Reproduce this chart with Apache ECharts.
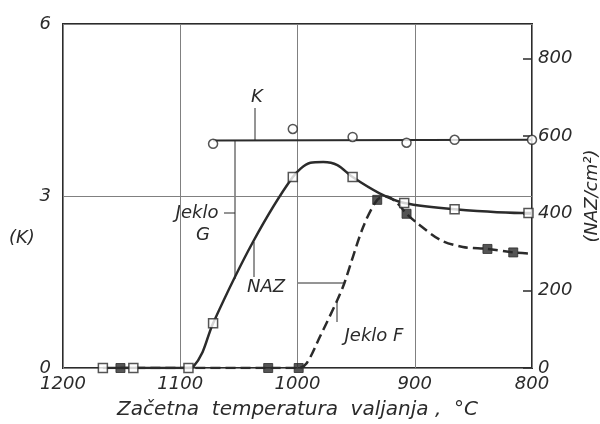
<!DOCTYPE html>
<html lang="sl">
<head>
    <meta charset="UTF-8">
    <title>Začetna temperatura valjanja</title>
    <script src="https://cdn.jsdelivr.net/npm/echarts@6.0.0/dist/echarts.min.js"></script>
    <style>
        html, body { margin: 0; padding: 0; background: #fff; }
        #chart { width: 600px; height: 424px; }
    </style>
</head>
<body>
    <div id="chart"></div>
    <script>
        // podatki, odčitani s slike
        var nazTicks = [0, 200, 400, 600, 800];

        // K - premica in izmerjene točke (krogci)
        var kLineT = [1072, 800];
        var kLineV = [3.97, 3.98];
        var kPointT = [1072, 1004, 953, 907, 866, 800];
        var kPointV = [3.91, 4.17, 4.03, 3.93, 3.98, 3.98];

        // Jeklo G - NAZ (polna črta, prazni kvadratki)
        var gCurveT = [1166, 1093, 1089, 1081, 1072, 1038, 1004, 989, 978, 966, 953, 930, 909, 866, 803, 800];
        var gCurveV = [0, 0, 3, 41, 116, 326, 494, 531, 533, 525, 494, 452, 427, 411, 401, 401];
        var gPointT = [1166, 1140, 1093, 1072, 1004, 953, 909, 866, 803];
        var gPointV = [0, 0, 0, 116, 494, 494, 427, 411, 401];

        // Jeklo F - NAZ (črtkana črta, polni kvadratki)
        var fCurveT = [1151, 999, 992, 981, 966, 960, 944, 932, 924, 915, 907, 898, 878, 859, 838, 816, 800];
        var fCurveV = [0, 0, 13, 80, 176, 220, 365, 435, 444, 427, 399, 375, 331, 313, 308, 299, 296];
        var fPointT = [1151, 1025, 999, 932, 907, 838, 816];
        var fPointV = [0, 0, 0, 435, 399, 308, 299];

        function pairs(t, v) {
            var out = [];
            for (var i = 0; i < t.length; i++) out.push([t[i], v[i]]);
            return out;
        }

        var ink = '#2b2b2b';
        var font = { fontFamily: 'DejaVu Sans', fontStyle: 'italic', fontSize: 18, color: ink };
        var txt = 'italic 18px "DejaVu Sans"';

        var chart = echarts.init(document.getElementById('chart'));
        var option = {
            animation: false,
            grid: {
                left: 63, right: 68, top: 24, bottom: 56,
                outerBoundsMode: 'none',
                containLabel: false,
                show: true, borderColor: ink, borderWidth: 2
            },
            xAxis: {
                type: 'value',
                inverse: true,
                min: 800, max: 1200, interval: 100,
                name: 'Začetna  temperatura  valjanja ,  °C',
                nameLocation: 'middle',
                nameGap: 32,
                nameTextStyle: Object.assign({}, font, { fontSize: 20 }),
                axisLine: { show: false },
                axisTick: { show: false },
                axisLabel: Object.assign({ margin: 7, formatter: function (v) { return String(v); } }, font),
                splitLine: { show: true, lineStyle: { color: '#808080', width: 1 } }
            },
            yAxis: [
                {
                    type: 'value',
                    min: 0, max: 6, interval: 3,
                    axisLine: { show: false },
                    axisTick: { show: false },
                    axisLabel: Object.assign({ margin: 12 }, font),
                    splitLine: { show: true, lineStyle: { color: '#808080', width: 1 } }
                },
                {
                    type: 'value',
                    position: 'right',
                    min: 0, max: 890,
                    name: '(NAZ/cm²)',
                    nameLocation: 'middle',
                    nameRotate: 90,
                    nameGap: 47,
                    nameTextStyle: font,
                    axisLine: { show: false },
                    axisTick: { show: true, inside: true, length: 9, customValues: nazTicks, lineStyle: { color: ink, width: 1.5 } },
                    axisLabel: Object.assign({ margin: 6, customValues: nazTicks }, font),
                    splitLine: { show: false }
                }
            ],
            graphic: [
                { type: 'text', left: 9, top: 229, style: { text: '(K)', fill: ink, font: txt } },
                { type: 'text', x: 257, y: 97, style: { text: 'K', fill: ink, font: txt, align: 'center', verticalAlign: 'middle' } },
                { type: 'line', shape: { x1: 255, y1: 108, x2: 255, y2: 140 }, style: { stroke: ink, lineWidth: 1 } },
                { type: 'text', x: 197, y: 213, style: { text: 'Jeklo', fill: ink, font: txt, align: 'center', verticalAlign: 'middle' } },
                { type: 'text', x: 203, y: 235, style: { text: 'G', fill: ink, font: txt, align: 'center', verticalAlign: 'middle' } },
                { type: 'line', shape: { x1: 224, y1: 213, x2: 235, y2: 213 }, style: { stroke: ink, lineWidth: 1 } },
                { type: 'line', shape: { x1: 235, y1: 140, x2: 235, y2: 279 }, style: { stroke: ink, lineWidth: 1 } },
                { type: 'text', x: 266, y: 287, style: { text: 'NAZ', fill: ink, font: txt, align: 'center', verticalAlign: 'middle' } },
                { type: 'line', shape: { x1: 254, y1: 242, x2: 254, y2: 277 }, style: { stroke: ink, lineWidth: 1 } },
                { type: 'line', shape: { x1: 297, y1: 283, x2: 345, y2: 283 }, style: { stroke: ink, lineWidth: 1 } },
                { type: 'text', x: 374, y: 336, style: { text: 'Jeklo F', fill: ink, font: txt, align: 'center', verticalAlign: 'middle' } },
                { type: 'line', shape: { x1: 337, y1: 300, x2: 337, y2: 322 }, style: { stroke: ink, lineWidth: 1 } }
            ],
            series: [
                {
                    name: 'K',
                    type: 'line',
                    yAxisIndex: 0,
                    data: pairs(kLineT, kLineV),
                    showSymbol: false,
                    lineStyle: { color: ink, width: 2 },
                    z: 3
                },
                {
                    name: 'K točke',
                    type: 'scatter',
                    yAxisIndex: 0,
                    data: pairs(kPointT, kPointV),
                    symbol: 'circle',
                    symbolSize: 9,
                    itemStyle: { color: '#fff', borderColor: ink, borderWidth: 1.5 },
                    z: 5
                },
                {
                    name: 'Jeklo G',
                    type: 'line',
                    yAxisIndex: 1,
                    data: pairs(gCurveT, gCurveV),
                    smooth: 0.3,
                    showSymbol: false,
                    lineStyle: { color: ink, width: 2.5 },
                    z: 3
                },
                {
                    name: 'Jeklo G točke',
                    type: 'scatter',
                    yAxisIndex: 1,
                    data: pairs(gPointT, gPointV),
                    symbol: 'rect',
                    symbolSize: 9,
                    itemStyle: { color: '#fff', borderColor: ink, borderWidth: 1.5 },
                    z: 6
                },
                {
                    name: 'Jeklo F',
                    type: 'line',
                    yAxisIndex: 1,
                    data: pairs(fCurveT, fCurveV),
                    smooth: 0.3,
                    showSymbol: false,
                    lineStyle: { color: ink, width: 2.5, type: [10, 5] },
                    z: 3
                },
                {
                    name: 'Jeklo F točke',
                    type: 'scatter',
                    yAxisIndex: 1,
                    data: pairs(fPointT, fPointV),
                    symbol: 'rect',
                    symbolSize: 9,
                    itemStyle: { color: ink, borderColor: ink, borderWidth: 1 },
                    z: 5
                }
            ]
        };
        chart.setOption(option);
    </script>
</body>
</html>
